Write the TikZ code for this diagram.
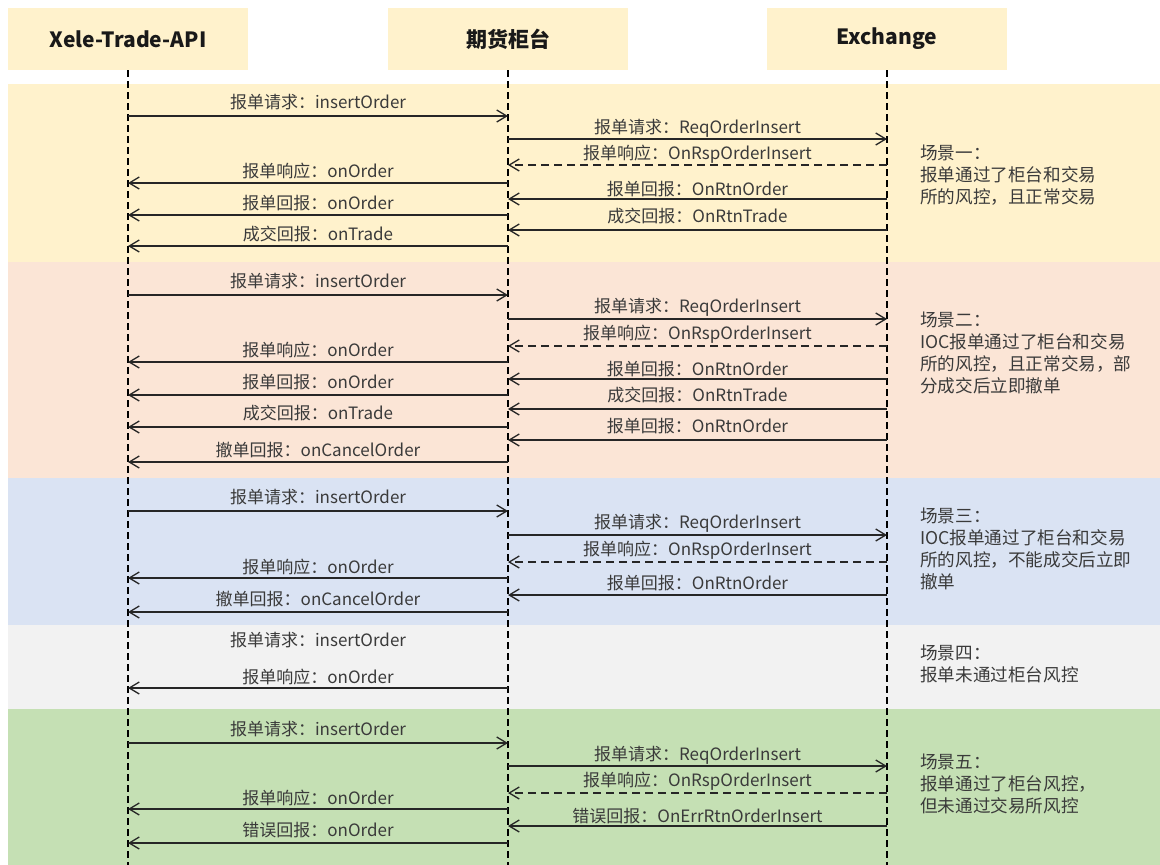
\documentclass[tikz,border=0pt]{standalone}
\usepackage{fontspec}
\setmainfont{Noto Sans CJK SC}
\usetikzlibrary{arrows.meta}
\definecolor{cyel}{HTML}{FFF2CC}
\definecolor{cora}{HTML}{FBE5D6}
\definecolor{cblu}{HTML}{DAE3F3}
\definecolor{cgry}{HTML}{F2F2F2}
\definecolor{cgrn}{HTML}{C5E0B4}
\definecolor{ctxt}{HTML}{3A3A3A}
\newcommand\msgline[7]{%
  \draw[msg,#7] (#2 |- 0,#4) -- (#3 |- 0,#4);
  \path (#2 |- 0,#5) -- node[lbl] (#1) {#6} (#3 |- 0,#5);
}
\begin{document}
\begin{tikzpicture}[x=1pt,y=-1pt,
  hdr/.style={fill=cyel, minimum width=240pt, minimum height=62pt, inner sep=0pt,
    font=\fontsize{21}{24}\selectfont\bfseries, text=black!90},
  life/.style={draw=black, line width=1.1pt, dash pattern=on 7pt off 4pt},
  msg/.style={draw=black!85, line width=1.3pt, -{Straight Barb[length=10pt,width=12pt]}},
  rsp/.style={dash pattern=on 8pt off 5pt},
  lbl/.style={font=\fontsize{17}{20}\selectfont, text=ctxt, inner sep=0pt},
  scn/.style={font=\fontsize{17.6}{21.8}\selectfont, text=ctxt, inner sep=0pt, anchor=north west, align=left}]
\useasboundingbox (0,0) rectangle (1160,865);
\fill[white] (0,0) rectangle (1160,865);
% scenario bands
\fill[cyel] (8,84) rectangle (1160,262);
\fill[cora] (8,262) rectangle (1160,478);
\fill[cblu] (8,478) rectangle (1160,625);
\fill[cgry] (8,625) rectangle (1160,709);
\fill[cgrn] (8,709) rectangle (1160,865);
% headers
\node[hdr] (h1) at (128,39) {\raisebox{-2pt}{Xele-Trade-API}};
\node[hdr] (h2) at (508,39) {\raisebox{-2pt}{期货柜台}};
\node[hdr] (h3) at (887,39) {\raisebox{-2pt}{Exchange}};
% lifelines
\coordinate (e1) at (h1 |- 0,865);
\coordinate (e2) at (h2 |- 0,865);
\coordinate (e3) at (h3 |- 0,865);
\draw[life] (h1.south) -- (e1);
\draw[life] (h2.south) -- (e2);
\draw[life] (h3.south) -- (e3);
% scenario 1
\msgline{a1}{h1}{h2}{116}{102}{报单请求：insertOrder}{}
\msgline{a2}{h2}{h3}{139}{128}{报单请求：ReqOrderInsert}{}
\msgline{a3}{h3}{h2}{165}{154}{报单响应：OnRspOrderInsert}{rsp}
\msgline{a4}{h2}{h1}{183}{171}{报单响应：onOrder}{}
\msgline{a5}{h3}{h2}{199}{189}{报单回报：OnRtnOrder}{}
\msgline{a6}{h2}{h1}{215}{203}{报单回报：onOrder}{}
\msgline{a7}{h3}{h2}{230}{216}{成交回报：OnRtnTrade}{}
\msgline{a8}{h2}{h1}{246}{234}{成交回报：onTrade}{}
% scenario 2
\msgline{b1}{h1}{h2}{295}{281}{报单请求：insertOrder}{}
\msgline{b2}{h2}{h3}{319}{307}{报单请求：ReqOrderInsert}{}
\msgline{b3}{h3}{h2}{346}{334}{报单响应：OnRspOrderInsert}{rsp}
\msgline{b4}{h2}{h1}{362}{350}{报单响应：onOrder}{}
\msgline{b5}{h3}{h2}{379}{369}{报单回报：OnRtnOrder}{}
\msgline{b6}{h2}{h1}{395}{382}{报单回报：onOrder}{}
\msgline{b7}{h3}{h2}{409}{395}{成交回报：OnRtnTrade}{}
\msgline{b8}{h2}{h1}{427}{413}{成交回报：onTrade}{}
\msgline{b9}{h3}{h2}{440}{426}{报单回报：OnRtnOrder}{}
\msgline{b10}{h2}{h1}{462}{450}{撤单回报：onCancelOrder}{}
% scenario 3
\msgline{c1}{h1}{h2}{511}{497}{报单请求：insertOrder}{}
\msgline{c2}{h2}{h3}{535}{523}{报单请求：ReqOrderInsert}{}
\msgline{c3}{h3}{h2}{562}{550}{报单响应：OnRspOrderInsert}{rsp}
\msgline{c4}{h2}{h1}{578}{567}{报单响应：onOrder}{}
\msgline{c5}{h3}{h2}{595}{583}{报单回报：OnRtnOrder}{}
\msgline{c6}{h2}{h1}{612}{599}{撤单回报：onCancelOrder}{}
% scenario 4
\path (h1 |- 0,640) -- node[lbl] (d1) {报单请求：insertOrder} (h2 |- 0,640);
\msgline{d2}{h2}{h1}{688}{677}{报单响应：onOrder}{}
% scenario 5
\msgline{f1}{h1}{h2}{743}{729}{报单请求：insertOrder}{}
\msgline{f2}{h2}{h3}{766}{755}{报单请求：ReqOrderInsert}{}
\msgline{f3}{h3}{h2}{793}{781}{报单响应：OnRspOrderInsert}{rsp}
\msgline{f4}{h2}{h1}{809}{798}{报单响应：onOrder}{}
\msgline{f5}{h3}{h2}{826}{816}{错误回报：OnErrRtnOrderInsert}{}
\msgline{f6}{h2}{h1}{843}{830}{错误回报：onOrder}{}
% scenario texts
\node[scn] (s1) at (920,145) {场景一：\\报单通过了柜台和交易\\所的风控，且正常交易};
\node[scn] (s2) at (920,312) {场景二：\\IOC报单通过了柜台和交易\\所的风控，且正常交易，部\\分成交后立即撤单};
\node[scn] (s3) at (920,508) {场景三：\\IOC报单通过了柜台和交易\\所的风控，不能成交后立即\\撤单};
\node[scn] (s4) at (920,645) {场景四：\\报单未通过柜台风控};
\node[scn] (s5) at (920,754) {场景五：\\报单通过了柜台风控，\\但未通过交易所风控};
\end{tikzpicture}
\end{document}
